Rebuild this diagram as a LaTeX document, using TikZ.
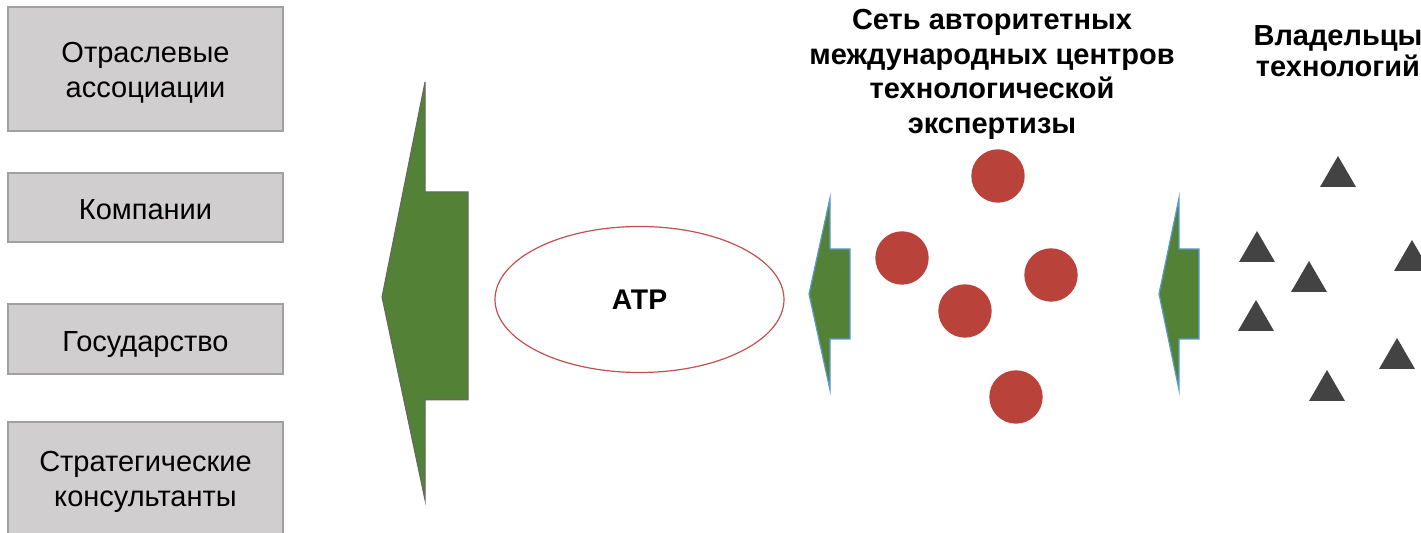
\documentclass[tikz,border=0pt]{standalone}
\usepackage{fontspec}
\setmainfont{Liberation Sans}
\usetikzlibrary{shapes.geometric}
\definecolor{boxfill}{HTML}{D0CECE}
\definecolor{boxline}{HTML}{A0A0A0}
\definecolor{arrowgreen}{HTML}{538135}
\definecolor{arrowblue}{HTML}{5B9BD5}
\definecolor{dotred}{HTML}{B9433A}
\definecolor{trigray}{HTML}{434343}
\definecolor{ellred}{HTML}{C0504D}
\begin{document}
\begin{tikzpicture}[x=0.5pt,y=-0.5pt,
  actor/.style={draw=boxline, fill=boxfill, line width=0.7pt, minimum width=137.5pt, inner sep=0pt},
  actortext/.style={anchor=base, inner sep=0pt, font=\fontsize{14.5}{17.5}\selectfont},
  headtext/.style={anchor=base, inner sep=0pt, font=\bfseries\fontsize{14.5}{17.25}\selectfont},
  bigarrow/.style={fill=arrowgreen, draw=gray!80!black, line width=0.5pt, line join=miter},
  smallarrow/.style={fill=arrowgreen, draw=arrowblue, line width=0.6pt, line join=miter},
  dot/.style={circle, fill=dotred, minimum size=26.7pt, inner sep=0pt},
  tri/.style={fill=trigray},
  atpell/.style={ellipse, draw=ellred, line width=0.6pt, minimum width=144.5pt, minimum height=73pt,
    inner sep=0pt, font=\bfseries\fontsize{14.2}{16}\selectfont}
]
\useasboundingbox (0,0) rectangle (1421,533);
\clip (0,0) rectangle (1421,533);

% left boxes
\node[actor, minimum height=62pt] (assoc) at (145.5,69) {};
\node[actor, minimum height=34.5pt] (comp) at (145.5,207.5) {};
\node[actor, minimum height=35pt] (gov) at (145.5,339) {};
\node[actor, minimum height=59pt] (cons) at (145.5,481) {};

\node[actortext] (assoc-a) at (145.5,63) {Отраслевые};
\node[actortext] (assoc-b) at (145.5,98) {ассоциации};
\node[actortext] (comp-a) at (145.5,220) {Компании};
\node[actortext] (gov-a) at (145.5,351.7) {Государство};
\node[actortext] (cons-a) at (145.5,471.7) {Стратегические};
\node[actortext] (cons-b) at (145.5,506.7) {консультанты};

% big arrow
\draw[bigarrow] (382,297) -- (425,82) -- (425,192) -- (468,192) -- (468,400) -- (425,400) -- (425,500) -- cycle;

% ellipse
\node[atpell] (atp) at (639.5,299.5) {АТР};

% small arrows
\draw[smallarrow] (809,294) -- (830,198) -- (830,249) -- (850,249) -- (850,339) -- (830,339) -- (830,390) -- cycle;
\draw[smallarrow] (1159,294) -- (1179,198) -- (1179,249) -- (1199,249) -- (1199,339) -- (1179,339) -- (1179,390) -- cycle;

% header texts
\node[headtext] (net-a) at (992,30) {Сеть авторитетных};
\node[headtext] (net-b) at (992,64.5) {международных центров};
\node[headtext] (net-c) at (992,99) {технологической};
\node[headtext] (net-d) at (992,133.5) {экспертизы};
\node[headtext] (own-a) at (1338,46) {Владельцы};
\node[headtext] (own-b) at (1338,77) {технологий};

% red dots
\node[dot] (d1) at (998,176) {};
\node[dot] (d2) at (902,258) {};
\node[dot] (d3) at (1051,275) {};
\node[dot] (d4) at (965,311) {};
\node[dot] (d5) at (1016,397) {};

% triangles (apex positions)
\foreach \x/\y in {1338/156, 1257/231, 1309/261, 1256/300, 1412/240, 1397/338, 1327/370}
  \fill[tri] (\x,\y) -- ++(18,31) -- ++(-36,0) -- cycle;
\end{tikzpicture}
\end{document}
